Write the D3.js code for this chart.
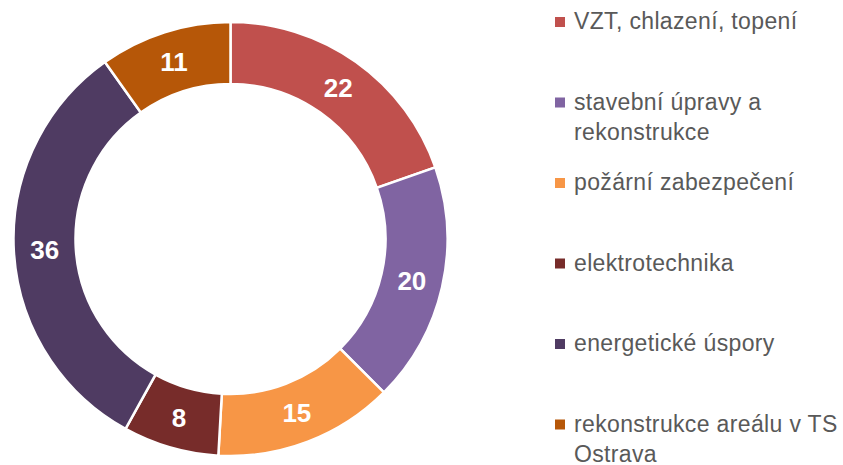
<!DOCTYPE html>
<html>
<head>
<meta charset="utf-8">
<script src="https://cdn.jsdelivr.net/npm/d3@7"></script>
<style>
    body { margin: 0; background: #fff; }
    #chart text { font-family: "Liberation Sans", Arial, sans-serif; }
</style>
</head>
<body>
<div id="chart"></div>
<script>
const width = 843;
const height = 465;

// Data
const categories = [
    "VZT, chlazení, topení",
    "stavební úpravy a rekonstrukce",
    "požární zabezpečení",
    "elektrotechnika",
    "energetické úspory",
    "rekonstrukce areálu v TS Ostrava"
];
const values = [22, 20, 15, 8, 36, 11];
const colors = ["#C0504D", "#8064A2", "#F79646", "#772C2A", "#4F3B62", "#B65708"];

const pieData = categories.map((c, i) => ({label: c, value: values[i], color: colors[i]}));

const cx = 230.5, cy = 239;
const outerR = 217, innerR = 155;

const svg = d3.select("#chart")
    .append("svg")
    .attr("width", width)
    .attr("height", height);

const g = svg.append("g")
    .attr("transform", `translate(${cx},${cy})`);

const pie = d3.pie()
    .sort(null)
    .value(d => d.value);

const arc = d3.arc()
    .innerRadius(innerR)
    .outerRadius(outerR);

const arcs = pie(pieData);

// Donut slices
g.selectAll("path")
    .data(arcs)
    .enter()
    .append("path")
    .attr("d", arc)
    .attr("fill", d => d.data.color)
    .attr("stroke", "white")
    .style("stroke-width", "2.5px");

// Value labels
g.selectAll("text.value")
    .data(arcs)
    .enter()
    .append("text")
    .attr("class", "value")
    .attr("transform", d => `translate(${arc.centroid(d)})`)
    .attr("dy", "0.36em")
    .attr("text-anchor", "middle")
    .style("font-size", "26px")
    .style("font-weight", "bold")
    .style("fill", "white")
    .text(d => d.data.value);

// Legend
const legendX = 555;
const legendTop = 29;
const rowStep = 80.5;
const lineHeight = 30;
const maxTextWidth = 272;

const legend = svg.append("g").attr("class", "legend");

pieData.forEach((d, i) => {
    const baseline = legendTop + i * rowStep;
    const item = legend.append("g");

    item.append("rect")
        .attr("x", legendX)
        .attr("y", baseline - 12)
        .attr("width", 10)
        .attr("height", 10)
        .style("fill", d.color);

    const text = item.append("text")
        .attr("x", legendX + 19)
        .attr("y", baseline)
        .style("font-size", "23px")
        .style("letter-spacing", "0.35px")
        .style("fill", "#595959");

    // simple word wrap
    const words = d.label.split(" ");
    let line = [];
    let lineNo = 0;
    let tspan = text.append("tspan").attr("x", legendX + 19).attr("y", baseline);
    words.forEach(w => {
        line.push(w);
        tspan.text(line.join(" "));
        if (tspan.node().getComputedTextLength() > maxTextWidth && line.length > 1) {
            line.pop();
            tspan.text(line.join(" "));
            line = [w];
            lineNo++;
            tspan = text.append("tspan")
                .attr("x", legendX + 19)
                .attr("y", baseline + lineNo * lineHeight)
                .text(w);
        }
    });
});
</script>
</body>
</html>
